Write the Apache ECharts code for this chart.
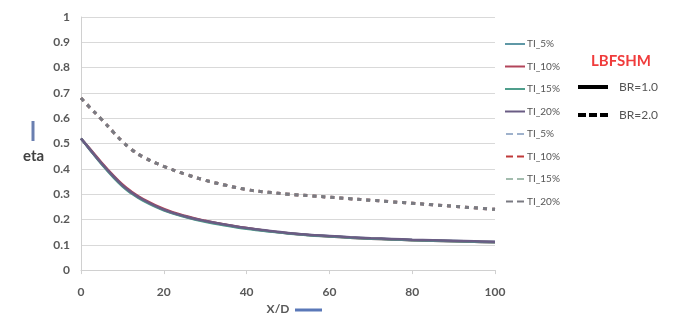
<!DOCTYPE html>
<html>
<head>
<meta charset="utf-8">
<script src="https://cdn.jsdelivr.net/npm/echarts@6/dist/echarts.min.js"></script>
<style>
  html, body { margin: 0; padding: 0; background: #fff; }
  #chart { width: 675px; height: 320px; }
</style>
</head>
<body>
<div id="chart"></div>
<script>
// X/D positions
var xd = [0, 2, 5, 8, 10, 12, 15, 20, 25, 30, 35, 40, 45, 50, 55, 60, 65, 70, 75, 80, 85, 90, 95, 100];

// BR=1.0 (solid)
var br1_ti5  = [0.52, 0.48, 0.42, 0.366, 0.334, 0.308, 0.277, 0.238, 0.212, 0.193, 0.178, 0.165, 0.154, 0.146, 0.139, 0.134, 0.129, 0.125, 0.122, 0.119, 0.117, 0.115, 0.113, 0.111];
var br1_ti10 = [0.52, 0.482, 0.424, 0.37, 0.338, 0.312, 0.281, 0.242, 0.215, 0.195, 0.179, 0.166, 0.155, 0.146, 0.139, 0.133, 0.128, 0.124, 0.121, 0.118, 0.116, 0.114, 0.112, 0.110];
var br1_ti15 = [0.52, 0.479, 0.418, 0.363, 0.331, 0.305, 0.274, 0.236, 0.211, 0.191, 0.176, 0.163, 0.153, 0.145, 0.138, 0.133, 0.128, 0.124, 0.121, 0.118, 0.116, 0.114, 0.112, 0.110];
var br1_ti20 = [0.52, 0.48, 0.421, 0.367, 0.335, 0.309, 0.278, 0.239, 0.213, 0.194, 0.179, 0.166, 0.156, 0.147, 0.140, 0.135, 0.130, 0.126, 0.123, 0.120, 0.118, 0.116, 0.114, 0.112];

// BR=2.0 (dashed) - the four curves lie on top of each other
var br2_ti5  = [0.68, 0.645, 0.595, 0.542, 0.508, 0.479, 0.447, 0.41, 0.38, 0.355, 0.335, 0.318, 0.308, 0.30, 0.294, 0.288, 0.282, 0.276, 0.27, 0.264, 0.258, 0.252, 0.246, 0.24];
var br2_ti10 = [0.68, 0.645, 0.595, 0.542, 0.508, 0.479, 0.447, 0.41, 0.38, 0.355, 0.335, 0.318, 0.308, 0.30, 0.294, 0.288, 0.282, 0.276, 0.27, 0.264, 0.258, 0.252, 0.246, 0.24];
var br2_ti15 = [0.68, 0.645, 0.595, 0.542, 0.508, 0.479, 0.447, 0.41, 0.38, 0.355, 0.335, 0.318, 0.308, 0.30, 0.294, 0.288, 0.282, 0.276, 0.27, 0.264, 0.258, 0.252, 0.246, 0.24];
var br2_ti20 = [0.68, 0.645, 0.595, 0.542, 0.508, 0.479, 0.447, 0.41, 0.38, 0.355, 0.335, 0.318, 0.308, 0.30, 0.294, 0.288, 0.282, 0.276, 0.27, 0.264, 0.258, 0.252, 0.246, 0.24];

var names = ['TI_5%', 'TI_10%', 'TI_15%', 'TI_20%'];
var solidData = [br1_ti5, br1_ti10, br1_ti15, br1_ti20];
var dashData = [br2_ti5, br2_ti10, br2_ti15, br2_ti20];
var solidColors = ['#5f98a6', '#b2455a', '#4f9e8c', '#6a5c84'];
var dashColors = ['#9fb2cc', '#c03a3a', '#a3bcae', '#7a7a82'];

var solidIcon = 'path://M0,0h20v2h-20z';
var dashIcon = 'path://M0,0h7v2h-7z M11,0h7v2h-7z';

function pairs(ys) {
  return xd.map(function (x, i) { return [x, ys[i]]; });
}

var series = [];
var legendItems = [];
solidData.forEach(function (ys, i) {
  series.push({
    name: names[i], type: 'line', smooth: 0.4, symbol: 'none',
    data: pairs(ys),
    lineStyle: { width: 2.5, color: solidColors[i] },
    itemStyle: { color: solidColors[i] }
  });
  legendItems.push({ name: names[i], icon: solidIcon });
});
dashData.forEach(function (ys, i) {
  series.push({
    name: names[i] + ' ', type: 'line', smooth: 0.4, symbol: 'none',
    data: pairs(ys),
    lineStyle: { width: 3, type: [4, 5], color: dashColors[i] },
    itemStyle: { color: dashColors[i] }
  });
  legendItems.push({ name: names[i] + ' ', icon: dashIcon });
});
// key entries for the two blockage ratios
series.push({ name: 'BR=1.0', type: 'line', symbol: 'none', data: [],
  lineStyle: { width: 4, color: '#000' }, itemStyle: { color: '#000' } });
series.push({ name: 'BR=2.0', type: 'line', symbol: 'none', data: [],
  lineStyle: { width: 4, type: [6, 3], color: '#000' }, itemStyle: { color: '#000' } });

var txt = { fontFamily: 'Lato', fontWeight: 'bold', color: '#595959' };

var chart = echarts.init(document.getElementById('chart'));
chart.setOption({
  animation: false,
  grid: { left: 81, right: 180, top: 17, bottom: 49 },
  legend: [{
    orient: 'vertical', left: 500, top: 34,
    itemWidth: 20, itemHeight: 2, itemGap: 12.5,
    data: legendItems,
    formatter: function (n) { return n.trim(); },
    textStyle: { fontFamily: 'Lato', fontSize: 10, color: '#555', padding: [0, 0, 0, -3] }
  }, {
    orient: 'vertical', left: 573, top: 76,
    itemWidth: 30, itemHeight: 4, itemGap: 16,
    data: [
      { name: 'BR=1.0', icon: 'path://M0,0h30v4h-30z' },
      { name: 'BR=2.0', icon: 'path://M0,0h8v4h-8z M11,0h8v4h-8z M22,0h8v4h-8z' }
    ],
    selectedMode: false,
    textStyle: { fontFamily: 'Lato', fontSize: 12, color: '#555', padding: [0, 0, 0, 6] }
  }],
  xAxis: {
    type: 'value', min: 0, max: 100, interval: 20,
    name: 'X/D', nameLocation: 'middle', nameGap: 32,
    nameTextStyle: Object.assign({ fontSize: 12, padding: [0, 20, 0, 0] }, txt),
    axisLine: { lineStyle: { color: '#d0d0d0' } },
    axisTick: { show: true, length: 4, lineStyle: { color: '#d0d0d0' } },
    splitLine: { show: false },
    axisLabel: Object.assign({ fontSize: 12, margin: 16 }, txt)
  },
  yAxis: {
    type: 'value', min: 0, max: 1, interval: 0.1,
    axisLine: { show: true, lineStyle: { color: '#d0d0d0' } },
    axisTick: { show: false },
    splitLine: { lineStyle: { color: '#d9d9d9' } },
    axisLabel: Object.assign({ fontSize: 12, margin: 11, formatter: function (v) { return +v.toFixed(1); } }, txt)
  },
  graphic: [
    { type: 'text', left: 591, top: 54,
      style: { text: 'LBFSHM', fontFamily: 'Lato', fontWeight: 'bold', fontSize: 15, fill: '#f03c3c' } },
    { type: 'text', left: 23, top: 149,
      style: { text: 'eta', fontFamily: 'Lato', fontWeight: 'bold', fontSize: 15, fill: '#404040' } },
    { type: 'line', shape: { x1: 33, y1: 121, x2: 33, y2: 141 },
      style: { stroke: '#6a7fb0', lineWidth: 3 } },
    { type: 'line', shape: { x1: 295, y1: 310, x2: 322, y2: 310 },
      style: { stroke: '#5a78b8', lineWidth: 3 } }
  ],
  series: series
});
</script>
</body>
</html>
